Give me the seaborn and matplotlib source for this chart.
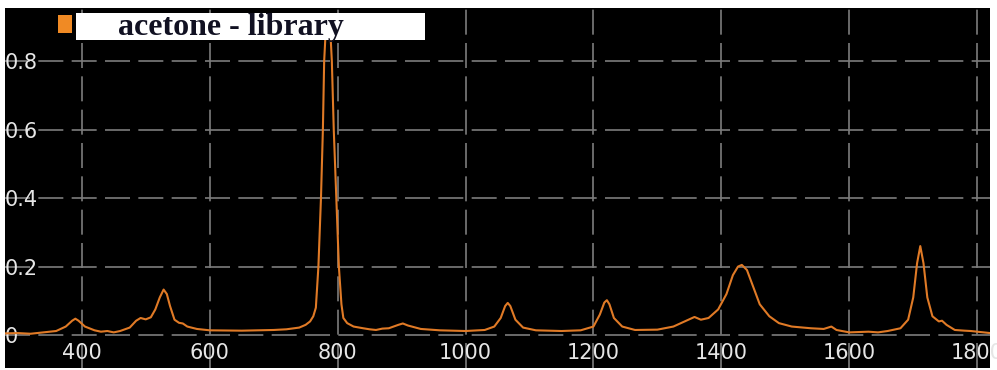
"""
Acetone Raman spectrum (library reference) on a dark instrument-style panel.
"""

import matplotlib
matplotlib.use('Agg')
import matplotlib.pyplot as plt
from matplotlib.patches import Rectangle
import seaborn as sns

# ── Data ───────────────────────────────────────────────────────────────────────
wavenumber = [
    280, 300, 320, 340, 360, 375, 385, 390, 395, 405, 420, 430, 440, 450, 460,
    475, 485, 492, 500, 508, 515, 522, 528, 533, 538, 545, 552, 558, 565, 580,
    600, 650, 700, 720, 740, 750, 757, 762, 766, 770, 774, 777, 779, 782, 785,
    788, 791, 794, 798, 802, 806, 809, 815, 825, 840, 850, 860, 870, 880, 895,
    902, 910, 930, 960, 1000, 1030, 1045, 1055, 1062, 1066, 1070, 1078, 1090,
    1110, 1150, 1180, 1200, 1210, 1217, 1221, 1225, 1232, 1245, 1265, 1300,
    1325, 1345, 1358, 1368, 1380, 1395, 1408, 1418, 1426, 1432, 1440, 1450,
    1460, 1475, 1490, 1510, 1540, 1560, 1572, 1580, 1600, 1630, 1645, 1660,
    1680, 1692, 1700, 1706, 1711, 1716, 1722, 1730, 1740, 1745, 1752, 1765,
    1780, 1790, 1820,
]
intensity = [
    0.005, 0.006, 0.004, 0.008, 0.012, 0.025, 0.042, 0.048, 0.042, 0.025,
    0.014, 0.010, 0.012, 0.008, 0.012, 0.022, 0.042, 0.050, 0.046, 0.052,
    0.075, 0.110, 0.133, 0.120, 0.085, 0.045, 0.036, 0.034, 0.025, 0.018,
    0.014, 0.013, 0.015, 0.017, 0.022, 0.030, 0.040, 0.055, 0.080, 0.200,
    0.400, 0.600, 0.800, 0.910, 0.930, 0.910, 0.800, 0.600, 0.400, 0.200,
    0.090, 0.050, 0.035, 0.025, 0.020, 0.017, 0.015, 0.019, 0.020, 0.030,
    0.034, 0.028, 0.018, 0.014, 0.012, 0.015, 0.025, 0.050, 0.085, 0.094,
    0.085, 0.045, 0.022, 0.014, 0.012, 0.014, 0.025, 0.060, 0.095, 0.102,
    0.090, 0.050, 0.025, 0.015, 0.016, 0.025, 0.042, 0.053, 0.045, 0.050,
    0.075, 0.120, 0.175, 0.200, 0.205, 0.190, 0.140, 0.090, 0.055, 0.035,
    0.025, 0.020, 0.018, 0.025, 0.015, 0.008, 0.010, 0.008, 0.012, 0.020,
    0.045, 0.110, 0.210, 0.260, 0.210, 0.110, 0.055, 0.040, 0.042, 0.030,
    0.015, 0.013, 0.012, 0.006,
]
x_ticks = [400, 600, 800, 1000, 1200, 1400, 1600, 1800]
y_ticks = [0, 0.2, 0.4, 0.6, 0.8]
y_tick_labels = ['0', '0.2', '0.4', '0.6', '0.8']
legend_label = 'acetone - library'

# ── Style ──────────────────────────────────────────────────────────────────────
W, H = 997, 370
LINE_COLOR = '#e07a26'
GRID_COLOR = '#7c7c7c'

sns.set_style('dark')
plt.rcParams['lines.scale_dashes'] = False

fig = plt.figure(figsize=(W / 100, H / 100), dpi=100, facecolor='white')
ax = fig.add_axes([5 / W, 2 / H, 985 / W, 360 / H])
ax.set_facecolor('black')

sns.lineplot(x=wavenumber, y=intensity, ax=ax, color=LINE_COLOR,
             linewidth=1.5, zorder=3)

ax.set_xlim(280, 1820)
ax.set_ylim(-0.096, 0.955)
ax.set_xticks(x_ticks)
ax.set_yticks(y_ticks)
ax.set_yticklabels(y_tick_labels)
ax.set_xlabel('')
ax.set_ylabel('')

ax.grid(True, color=GRID_COLOR, linewidth=1.2, linestyle=(0, (18, 6)))
for s in ax.spines.values():
    s.set_visible(False)

ax.tick_params(axis='x', length=0, pad=-18, colors='#e6e6e6', labelsize=15)
ax.tick_params(axis='y', length=0, pad=0, colors='#e6e6e6', labelsize=15)
for lbl in ax.get_yticklabels():
    lbl.set_horizontalalignment('left')

# ── Legend-like label box ──────────────────────────────────────────────────────
fig.add_artist(Rectangle((58 / W, 1 - 33 / H), 14 / W, 18 / H,
                         transform=fig.transFigure, facecolor='#f08a24',
                         edgecolor='none', zorder=5))
fig.add_artist(Rectangle((76 / W, 1 - 40 / H), 349 / W, 27 / H,
                         transform=fig.transFigure, facecolor='white',
                         edgecolor='none', zorder=5))
fig.text(231 / W, 1 - 35 / H, legend_label, ha='center', va='baseline',
         fontsize=23, fontweight='bold', family=['Liberation Serif', 'DejaVu Serif'],
         color='#111122', zorder=6)

plt.savefig('out.png', dpi=100, facecolor='white')
plt.close()
